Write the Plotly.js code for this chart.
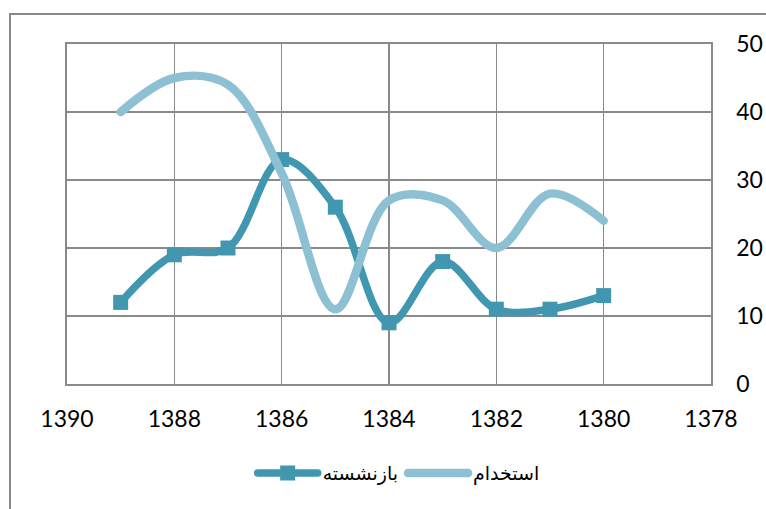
<!DOCTYPE html>
<html>
<head>
<meta charset="utf-8">
<script src="https://cdn.plot.ly/plotly-3.0.1.min.js"></script>
<style>
  html, body { margin: 0; padding: 0; background: #fff; }
  #chart { width: 766px; height: 509px; }
  #chart .scatterlayer path.js-line { stroke-linecap: round; stroke-linejoin: round; }
  #chart .legend path.js-line { stroke-linecap: round; }
</style>
</head>
<body>
<div id="chart"></div>
<script>
const years = [1389, 1388, 1387, 1386, 1385, 1384, 1383, 1382, 1381, 1380];
const retiredValues = [12, 19, 20, 33, 26, 9, 18, 11, 11, 13];
const hiringValues = [40, 45, 44, 31, 11, 27, 27, 20, 28, 24];
const retiredName = 'بازنشسته';
const hiringName = 'استخدام';
const xTicks = [1390, 1388, 1386, 1384, 1382, 1380, 1378];
const yTicks = [0, 10, 20, 30, 40, 50];

const darkColor = 'rgb(65,151,175)';
const lightColor = 'rgb(141,192,211)';
const gridColor = '#8a8a8a';
const tickFont = { family: 'Lato, "Open Sans", sans-serif', size: 23, color: '#000' };

const traces = [
  {
    x: years, y: retiredValues, name: retiredName,
    type: 'scatter', mode: 'lines+markers',
    line: { color: darkColor, width: 7.5, shape: 'spline', smoothing: 1 },
    marker: { symbol: 'square', size: 15, color: darkColor }
  },
  {
    x: years, y: hiringValues, name: hiringName,
    type: 'scatter', mode: 'lines',
    line: { color: lightColor, width: 8.5, shape: 'spline', smoothing: 1 }
  }
];

const layout = {
  width: 766, height: 509,
  margin: { l: 67, r: 55, t: 44, b: 125 },
  paper_bgcolor: '#fff', plot_bgcolor: '#fff',
  showlegend: true,
  legend: {
    orientation: 'h', x: 0.515, xanchor: 'center', y: -0.262, yanchor: 'middle',
    font: { family: '"DejaVu Sans", sans-serif', size: 19, color: '#000' },
    itemwidth: 60
  },
  xaxis: {
    range: [1390, 1378], tickvals: xTicks, ticktext: xTicks.map(String),
    showgrid: true, gridcolor: gridColor, gridwidth: 1.6,
    showline: true, linecolor: gridColor, linewidth: 1.6, mirror: true,
    zeroline: false, ticks: 'outside', ticklen: 14, tickcolor: 'rgba(0,0,0,0)',
    tickfont: tickFont
  },
  yaxis: {
    range: [0, 50], tickvals: yTicks, ticktext: yTicks.map(String), side: 'right',
    showgrid: true, gridcolor: gridColor, gridwidth: 1.6,
    showline: true, linecolor: gridColor, linewidth: 1.6, mirror: true,
    zeroline: false, ticks: 'outside', ticklen: 19, tickcolor: 'rgba(0,0,0,0)',
    tickfont: tickFont
  },
  shapes: [{
    type: 'rect', xref: 'paper', yref: 'paper',
    x0: -0.0885, x1: 1.3, y0: -0.5, y1: 1.088,
    line: { color: '#888', width: 2 }, fillcolor: 'rgba(0,0,0,0)', layer: 'below'
  }]
};

Plotly.newPlot('chart', traces, layout, { staticPlot: true, displayModeBar: false });
</script>
</body>
</html>
